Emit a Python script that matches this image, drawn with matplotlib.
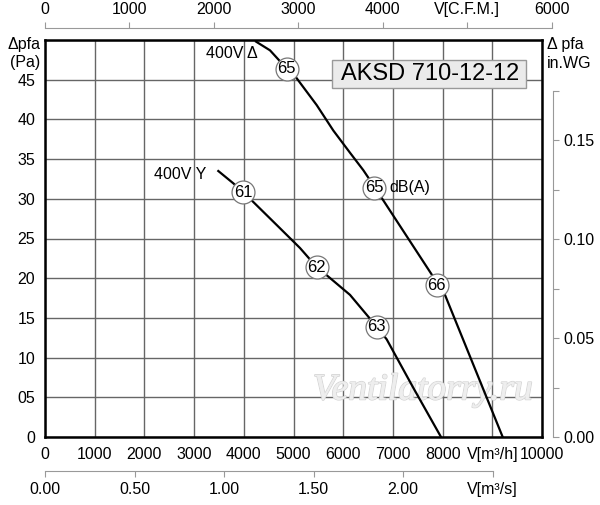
import matplotlib.pyplot as plt
import matplotlib.patches as mpatches
import matplotlib.patheffects as pe

plt.rcParams["font.family"] = ["Liberation Sans", "DejaVu Sans"]

# кривые вентилятора, V [m3/h] -> dpfa [Pa]
delta_x = [4245, 4527, 4863, 5050, 5467, 5801, 6137, 6405, 6620, 6807, 7746, 8048, 9209]
delta_y = [49.8, 48.7, 46.4, 45.3, 41.8, 38.6, 35.8, 33.6, 31.6, 29.8, 20.8, 17.9, 0.0]
star_x = [3487, 3789, 3990, 4191, 4662, 5131, 5467, 5701, 6137, 6405, 6673, 6875, 7410, 7968]
star_y = [33.5, 31.95, 30.8, 29.6, 26.7, 23.8, 21.4, 20.2, 17.9, 15.9, 13.9, 12.3, 6.2, 0.0]

# уровни шума dB(A) на кривых
delta_db_x = [4863, 6620, 7881]
delta_db_y = [46.4, 31.4, 19.1]
delta_db = ["65", "65", "66"]
star_db_x = [3990, 5467, 6673]
star_db_y = [30.8, 21.4, 13.9]
star_db = ["61", "62", "63"]

x_ticks = list(range(0, 10001, 1000))
x_labels = ["0", "1000", "2000", "3000", "4000", "5000", "6000", "7000", "8000", "V[m³/h]", "10000"]
y_ticks = list(range(0, 51, 5))
y_labels = ["0", "05", "10", "15", "20", "25", "30", "35", "40", "45", ""]
cfm_ticks = [0, 1000, 2000, 3000, 4000, 5000, 6000]
cfm_labels = ["0", "1000", "2000", "3000", "4000", "V[C.F.M.]", "6000"]
ms_ticks = [0, 0.5, 1.0, 1.5, 2.0, 2.5]
ms_labels = ["0.00", "0.50", "1.00", "1.50", "2.00", "V[m³/s]"]
wg_ticks = [0, 0.025, 0.05, 0.075, 0.10, 0.125, 0.15, 0.175]
wg_labels = ["0.00", "", "0.05", "", "0.10", "", "0.15", ""]

W, H = 600, 505
FS = 11.5
GRAY = "#999999"


def px(x, y):
    return x / W, 1 - y / H


fig = plt.figure(figsize=(W / 100, H / 100), dpi=100)

# основная сетка
ax = fig.add_axes([45 / W, 1 - 437 / H, 497 / W, 397 / H])
ax.set_xlim(0, 10000)
ax.set_ylim(0, 50)
ax.set_xticks(x_ticks)
ax.set_xticklabels(x_labels, fontsize=FS)
ax.set_yticks(y_ticks)
ax.set_yticklabels(y_labels, fontsize=FS)
ax.tick_params(length=0, pad=7)
ax.grid(True, color="#666666", linewidth=1.0)
for sp in ax.spines.values():
    sp.set_linewidth(1.8)
    sp.set_zorder(5)

wm = ax.text(7600, 5.9, "Ventilatorry.ru", fontsize=27, style="italic",
             family="Liberation Serif", color="#eeeeee", ha="center", va="center", zorder=2)
wm.set_path_effects([pe.withStroke(linewidth=1.2, foreground="#d4d4d4"), pe.Normal()])

ax.plot(delta_x, delta_y, color="black", linewidth=1.6, zorder=3)
ax.plot(star_x, star_y, color="black", linewidth=1.6, zorder=3)

for xs, ys, labels in [(delta_db_x, delta_db_y, delta_db), (star_db_x, star_db_y, star_db)]:
    ax.plot(xs, ys, "o", markersize=16.5, markerfacecolor="white",
            markeredgecolor="#777777", markeredgewidth=0.9, zorder=4, linestyle="none")
    for x, y, t in zip(xs, ys, labels):
        ax.text(x, y, t, fontsize=12, ha="center", va="center", zorder=6)

ax.text(6620 + 300, 31.4, "dB(A)", fontsize=FS, ha="left", va="center", zorder=6)
ax.text(4290, 48.3, "400V Δ", fontsize=FS, ha="right", va="center", zorder=6)
ax.text(3250, 33.0, "400V Y", fontsize=FS, ha="right", va="center", zorder=6)

# табличка с моделью
x0, y0 = px(332, 88)
fig.patches.append(mpatches.Rectangle((x0, y0), (526 - 332) / W, 28 / H,
                                      transform=fig.transFigure, facecolor="#ebebeb",
                                      edgecolor=GRAY, linewidth=1.0, zorder=10))
fig.text(*px(430, 74), "AKSD 710-12-12", fontsize=17, ha="center", va="center", zorder=11)

# верхняя шкала C.F.M.
ax_top = fig.add_axes([45 / W, 1 - 28 / H, 506.7 / W, 0.0001])
ax_top.set_xlim(0, 6000)
ax_top.set_yticks([])
ax_top.patch.set_visible(False)
for name in ["left", "right", "bottom"]:
    ax_top.spines[name].set_visible(False)
ax_top.spines["top"].set_color(GRAY)
ax_top.xaxis.set_ticks_position("top")
ax_top.set_xticks(cfm_ticks)
ax_top.set_xticklabels(cfm_labels, fontsize=FS)
ax_top.tick_params(direction="out", length=4.2, color=GRAY, pad=3.5)

# нижняя шкала m3/s
ax_s = fig.add_axes([45 / W, 1 - 471 / H, 447.7 / W, 0.0001])
ax_s.set_xlim(0, 2.5)
ax_s.set_yticks([])
ax_s.patch.set_visible(False)
for name in ["left", "right", "top"]:
    ax_s.spines[name].set_visible(False)
ax_s.spines["bottom"].set_color(GRAY)
ax_s.set_xticks(ms_ticks)
ax_s.set_xticklabels(ms_labels, fontsize=FS)
ax_s.tick_params(direction="out", length=4.2, color=GRAY, pad=3.5)

# правая шкала in.WG
ax_r = fig.add_axes([552.7 / W, 1 - 437 / H, 0.0001, 346 / H])
ax_r.set_ylim(0, 0.175)
ax_r.set_xticks([])
ax_r.patch.set_visible(False)
for name in ["left", "top", "bottom"]:
    ax_r.spines[name].set_visible(False)
ax_r.spines["right"].set_color(GRAY)
ax_r.yaxis.set_ticks_position("right")
ax_r.set_yticks(wg_ticks)
ax_r.set_yticklabels(wg_labels, fontsize=FS)
ax_r.tick_params(direction="out", length=4.2, color=GRAY, pad=3.5)

fig.text(*px(40, 44), "Δpfa", fontsize=FS, ha="right", va="center")
fig.text(*px(40, 63), "(Pa)", fontsize=FS, ha="right", va="center")
fig.text(*px(547, 45), "Δ pfa", fontsize=FS, ha="left", va="center")
fig.text(*px(547, 63), "in.WG", fontsize=FS, ha="left", va="center")

fig.savefig("out.png", dpi=100)
